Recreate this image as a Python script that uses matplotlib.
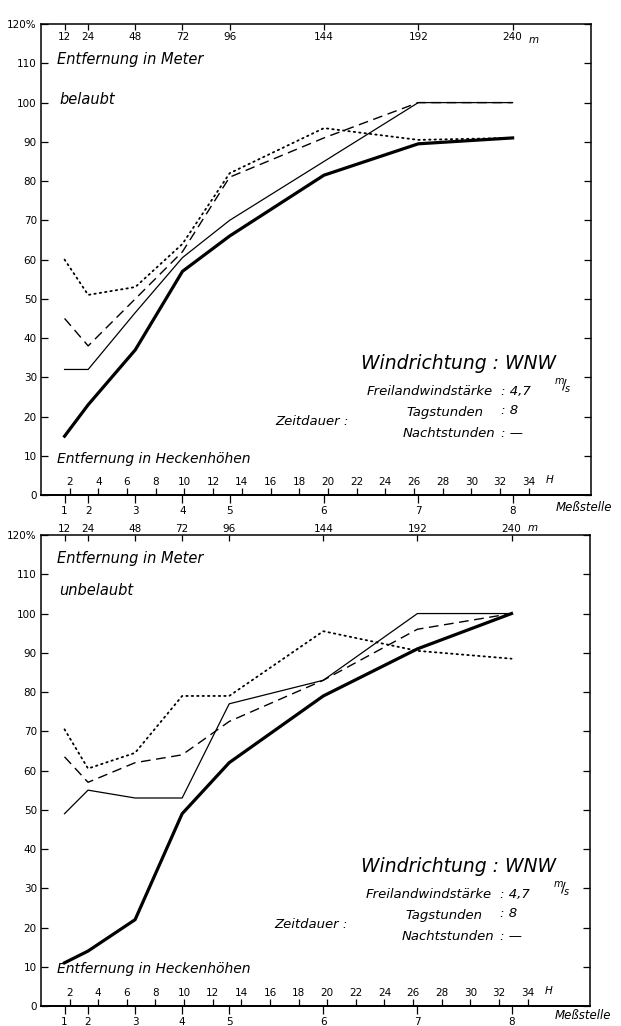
import numpy as np
import matplotlib.pyplot as plt

# Messstellen in Meter hinter der Hecke
meter = [12, 24, 48, 72, 96, 144, 192, 240]
messstelle = ['1', '2', '3', '4', '5', '6', '7', '8']
hecke_h = [2, 4, 6, 8, 10, 12, 14, 16, 18, 20, 22, 24, 26, 28, 30, 32, 34]
y_ticks = [0, 10, 20, 30, 40, 50, 60, 70, 80, 90, 100, 110, 120]
y_labels = ['0', '10', '20', '30', '40', '50', '60', '70', '80', '90', '100', '110', '120%']

# belaubt (Windgeschwindigkeit in % der Freilandwindstaerke)
bel_dick = [15, 23, 37, 57, 66, 81.5, 89.5, 91]
bel_duenn = [32, 32, 46.5, 60.5, 70, 85, 100, 100]
bel_strich = [45, 38, 50, 62, 81, 91, 100, 100]
bel_punkt = [60, 51, 53, 64, 82, 93.5, 90.5, 91]

# unbelaubt
unb_dick = [11, 14, 22, 49, 62, 79, 91, 100]
unb_duenn = [49, 55, 53, 53, 77, 83, 100, 100]
unb_strich = [63.5, 57, 62, 64, 72.5, 83, 96, 100]
unb_punkt = [70.5, 60.5, 64.5, 79, 79, 95.5, 90.5, 88.5]

hecke_m = 7.3  # Meter je Heckenhoehe
fs = 7.5


def panel(ax, dick, duenn, strich, punkt, name, oben_innen, dy):
    ax.plot(meter, punkt, color='k', lw=1.3, ls=(0, (0.8, 2.2)), dash_capstyle='round')
    ax.plot(meter, strich, color='k', lw=1.0, ls=(0, (7, 4)))
    ax.plot(meter, duenn, color='k', lw=0.9)
    ax.plot(meter, dick, color='k', lw=2.3)

    ax.set_xlim(0, 280)
    ax.set_ylim(0, 120)
    for s in ax.spines.values():
        s.set_linewidth(1.1)

    # Meter oben
    ax.xaxis.tick_top()
    ax.set_xticks(meter, [str(m) for m in meter])
    ax.tick_params(axis='x', direction='in', length=4, width=0.9, labelsize=fs,
                   pad=-13 if oben_innen else 1)
    ax.set_yticks(y_ticks, y_labels)
    ax.tick_params(axis='y', direction='in', length=5, width=0.9, labelsize=fs,
                   right=True, labelright=False, pad=3)

    # Heckenhoehen unten, innen
    sec_h = ax.secondary_xaxis('bottom', functions=(lambda x: np.asarray(x) / hecke_m,
                                                    lambda x: np.asarray(x) * hecke_m))
    sec_h.set_ticks(hecke_h, labels=[str(h) for h in hecke_h])
    sec_h.tick_params(direction='in', length=5, width=0.9, labelsize=fs, pad=-13)
    sec_h.spines['bottom'].set_linewidth(1.1)

    # Messstellen unten, aussen
    sec_m = ax.secondary_xaxis('bottom')
    sec_m.set_ticks(meter, labels=messstelle)
    sec_m.tick_params(direction='out', length=6, width=0.9, labelsize=fs, pad=2)
    sec_m.spines['bottom'].set_linewidth(1.1)

    kw = dict(style='italic', color='k', va='center')
    ax.text(248, 116 if oben_innen else 121.8, 'm', fontsize=fs, clip_on=False, **kw)
    ax.text(8, 111 if oben_innen else 114, 'Entfernung in Meter', fontsize=10.5, **kw)
    ax.text(9.5, 100.8 if oben_innen else 106, name, fontsize=10.5, **kw)
    ax.text(8, 9.3, 'Entfernung in Heckenhöhen', fontsize=10, **kw)
    ax.text(257, 3.8, 'H', fontsize=fs, **kw)
    ax.text(262, -3.2 if oben_innen else -2.4, 'Meßstelle', fontsize=8.5,
            clip_on=False, **kw)

    ax.text(163, 33.5 + dy, 'Windrichtung : WNW', fontsize=13.5, **kw)
    ax.text(230, 26.5 + dy, 'Freilandwindstärke', fontsize=9.5, ha='right', **kw)
    ax.text(234, 26.5 + dy, ': 4,7', fontsize=9.5, **kw)
    ax.text(261, 27.8 + dy, r'$^{m}\!/\!_{s}$', fontsize=10, **kw)
    ax.text(119, 18.8 + dy, 'Zeitdauer :', fontsize=9.5, **kw)
    ax.text(225, 21 + dy, 'Tagstunden', fontsize=9.5, ha='right', **kw)
    ax.text(234, 21.5 + dy, ': 8', fontsize=9.5, **kw)
    ax.text(231, 15.8 + dy, 'Nachtstunden', fontsize=9.5, ha='right', **kw)
    ax.text(234, 15.8 + dy, ': —', fontsize=9.5, **kw)


fig = plt.figure(figsize=(6.21, 10.26), dpi=100)
ax1 = fig.add_axes([0.066, 0.5175, 0.886, 0.459])
ax2 = fig.add_axes([0.066, 0.0195, 0.884, 0.459])

panel(ax1, bel_dick, bel_duenn, bel_strich, bel_punkt, 'belaubt', True, 0)
panel(ax2, unb_dick, unb_duenn, unb_strich, unb_punkt, 'unbelaubt', False, 2)

fig.savefig('out.png', dpi=100)
